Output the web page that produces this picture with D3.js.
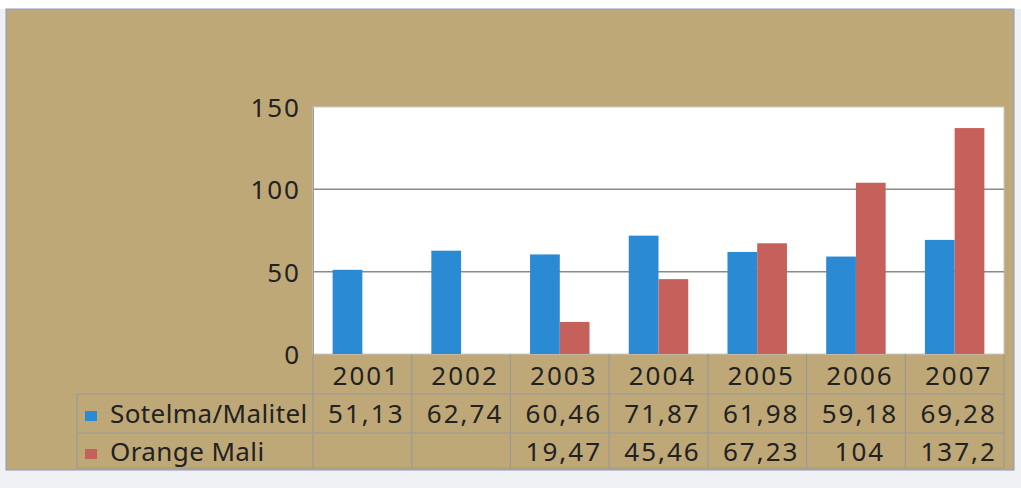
<!DOCTYPE html>
<html><head><meta charset="utf-8">
<script src="https://cdn.jsdelivr.net/npm/d3@7"></script>
<style>
html,body{margin:0;padding:0;background:#eef0f3;}
svg{display:block;}
text{font-family:"Noto Sans",sans-serif;fill:#222;}
</style></head>
<body>
<script>
const years = ["2001","2002","2003","2004","2005","2006","2007"];
const seriesNames = ["Sotelma/Malitel", "Orange Mali"];
const sotelma = [51.13, 62.74, 60.46, 71.87, 61.98, 59.18, 69.28];
const orange = [null, null, 19.47, 45.46, 67.23, 104, 137.2];
const yTicks = [0, 50, 100, 150];
const colors = ["#2b8ad4", "#c6605a"];

const W = 1021, H = 488;
const svg = d3.select("body").append("svg").attr("width", W).attr("height", H);

svg.append("rect").attr("x",0).attr("y",0).attr("width",W).attr("height",9).attr("fill","#ffffff");
svg.append("rect").attr("x",6).attr("y",9).attr("width",1008).attr("height",461)
  .attr("fill","#bfa877").attr("stroke","#8f97c2").attr("stroke-width",1);

const plot = {l:313, r:1004, t:107, b:354};
const x0 = d3.scaleBand().domain(years).range([plot.l, plot.r]).padding(0);
const x1 = d3.scaleBand().domain([0,1]).range([0, x0.bandwidth()]).paddingInner(0).paddingOuter(0.66);
const y = d3.scaleLinear().domain([0,150]).range([plot.b, plot.t]);

svg.append("rect").attr("x",plot.l).attr("y",plot.t).attr("width",plot.r-plot.l).attr("height",plot.b-plot.t)
  .attr("fill","#ffffff").attr("stroke","#c9c9c9").attr("stroke-width",1);

svg.append("g").selectAll("line").data(yTicks.filter(d=>d>0 && d<150)).join("line")
  .attr("x1",plot.l).attr("x2",plot.r).attr("y1",d=>y(d)).attr("y2",d=>y(d))
  .attr("stroke","#8a8a8a").attr("stroke-width",1.5);

const yAxis = d3.axisLeft(y).tickValues(yTicks).tickSize(0).tickPadding(12);
const ya = svg.append("g").attr("transform",`translate(${plot.l},0)`).call(yAxis);
ya.select(".domain").attr("stroke","#9a9a9a");
ya.selectAll("text").style("font-family","'Noto Sans',sans-serif").style("font-size","26px")
  .style("letter-spacing","2px").attr("fill","#222").attr("dy","0.36em");

const seriesData = [sotelma, orange];
seriesData.forEach((vals, si) => {
  svg.append("g").selectAll("rect").data(years.map((yr,i)=>({yr, v: vals[i]})).filter(d=>d.v!=null)).join("rect")
    .attr("x", d => x0(d.yr) + x1(si))
    .attr("width", x1.bandwidth())
    .attr("y", d => y(d.v))
    .attr("height", d => y(0) - y(d.v))
    .attr("fill", colors[si]);
});

const tbl = {l:77};
const g = svg.append("g");
const lineC = "#9a9a9a";
[394, 433, 468].forEach(yy => {
  g.append("line").attr("x1",tbl.l).attr("x2",plot.r).attr("y1",yy).attr("y2",yy).attr("stroke",lineC).attr("stroke-width",1.2);
});
const bounds = years.map(yr => x0(yr)).concat([plot.r]);
bounds.forEach(xx => {
  g.append("line").attr("x1",xx).attr("x2",xx).attr("y1",354).attr("y2",468).attr("stroke",lineC).attr("stroke-width",1.2);
});
g.append("line").attr("x1",tbl.l).attr("x2",tbl.l).attr("y1",394).attr("y2",468).attr("stroke",lineC).attr("stroke-width",1.2);

const fmt = v => v==null ? "" : String(v).replace(".", ",");
g.selectAll("text.yr").data(years).join("text").attr("class","yr")
  .attr("x", d => x0(d) + x0.bandwidth()/2 + 4).attr("y", 385)
  .attr("text-anchor","middle").style("font-size","26px").style("letter-spacing","2px").text(d=>d);
const rowY = [423, 461];
seriesData.forEach((vals, si) => {
  g.selectAll(`text.v${si}`).data(years.map((yr,i)=>({yr, v: vals[i]}))).join("text").attr("class",`v${si}`)
    .attr("x", d => x0(d.yr) + x0.bandwidth()/2 + 4).attr("y", rowY[si])
    .attr("text-anchor","middle").style("font-size","26px").style("letter-spacing","2px").text(d=>fmt(d.v));
});
svg.append("clipPath").attr("id","legclip").append("rect")
  .attr("x",tbl.l).attr("y",354).attr("width",plot.l - tbl.l - 1).attr("height",120);
const lg = g.append("g").attr("clip-path","url(#legclip)");
seriesNames.forEach((nm, si) => {
  lg.append("rect").attr("x",85).attr("y",rowY[si]-12).attr("width",12).attr("height",10).attr("fill",colors[si]);
  lg.append("text").attr("x",110).attr("y",rowY[si]).style("font-size","26px").style("letter-spacing","0.4px").text(nm);
});
</script>
</body></html>
